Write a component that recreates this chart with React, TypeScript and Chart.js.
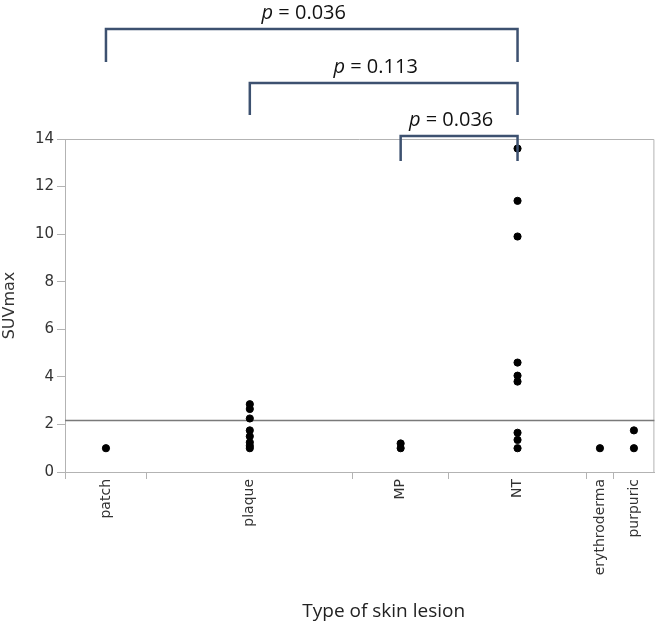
import React, { useEffect, useRef } from "react";
import { Chart, registerables } from "chart.js";

Chart.register(...registerables);

// ---------- data ----------
const CATEGORIES = ["patch", "plaque", "MP", "NT", "erythroderma", "purpuric"];
const CATEGORY_WIDTHS = [82, 206, 96, 138, 27, 41];
const PATCH = [1.0];
const PLAQUE = [2.85, 2.65, 2.25, 1.75, 1.5, 1.25, 1.1, 1.0];
const MP = [1.2, 1.0];
const NT = [13.6, 11.4, 9.9, 4.6, 4.05, 3.8, 1.65, 1.35, 1.0];
const ERYTHRODERMA = [1.0];
const PURPURIC = [1.75, 1.0];
const SERIES = [PATCH, PLAQUE, MP, NT, ERYTHRODERMA, PURPURIC];
const Y_TICKS = [0, 2, 4, 6, 8, 10, 12, 14];
const REFERENCE_LINE = 2.2;
const COMPARISONS = [
  { from: "patch", to: "NT", p: "0.036" },
  { from: "plaque", to: "NT", p: "0.113" },
  { from: "MP", to: "NT", p: "0.036" },
];
const X_TITLE = "Type of skin lesion";
const Y_TITLE = "SUVmax";

// ---------- derived ----------
const BOUNDS: number[] = [0];
CATEGORY_WIDTHS.forEach((w, i) => BOUNDS.push(BOUNDS[i] + w));
const TOTAL = BOUNDS[BOUNDS.length - 1];
const CENTERS = CATEGORIES.map((_, i) => (BOUNDS[i] + BOUNDS[i + 1]) / 2);
const X_TICKS: { value: number; label: string; boundary: boolean }[] = [];
BOUNDS.slice(0, -1).forEach((b, i) => {
  X_TICKS.push({ value: b, label: "", boundary: true });
  X_TICKS.push({ value: CENTERS[i], label: CATEGORIES[i], boundary: false });
});

const AXIS_GRAY = "#b3b3b3";
const TEXT = "#333333";
const BRACKET = "#3d5170";

const decorPlugin = {
  id: "decor",
  beforeDatasetsDraw(chart: any) {
    const { ctx, chartArea: a, scales } = chart;
    ctx.save();
    // frame (top & right)
    ctx.strokeStyle = AXIS_GRAY;
    ctx.lineWidth = 1;
    ctx.beginPath();
    ctx.moveTo(a.left, a.top + 0.5);
    ctx.lineTo(a.right - 0.5, a.top + 0.5);
    ctx.lineTo(a.right - 0.5, a.bottom);
    ctx.stroke();
    // reference line
    const y = Math.round(scales.y.getPixelForValue(REFERENCE_LINE)) + 0.5;
    ctx.strokeStyle = "#7a7a7a";
    ctx.lineWidth = 1.5;
    ctx.beginPath();
    ctx.moveTo(a.left, y);
    ctx.lineTo(a.right, y);
    ctx.stroke();
    ctx.restore();
  },
  afterDraw(chart: any) {
    const { ctx, chartArea: a, scales } = chart;
    const levels = [110, 56, 3];
    const drops = [33, 32, 25];
    ctx.save();
    COMPARISONS.forEach((c, i) => {
      const x1 = scales.x.getPixelForValue(CENTERS[CATEGORIES.indexOf(c.from)]);
      const x2 = scales.x.getPixelForValue(CENTERS[CATEGORIES.indexOf(c.to)]);
      const yh = a.top - levels[i];
      ctx.strokeStyle = BRACKET;
      ctx.lineWidth = 2.5;
      ctx.lineJoin = "miter";
      ctx.beginPath();
      ctx.moveTo(x1, yh + drops[i]);
      ctx.lineTo(x1, yh);
      ctx.lineTo(x2, yh);
      ctx.lineTo(x2, yh + drops[i]);
      ctx.stroke();
      // label
      const italic = "italic 20px 'Open Sans'";
      const normal = "20px 'Open Sans'";
      ctx.font = italic;
      const w1 = ctx.measureText("p").width;
      ctx.font = normal;
      const rest = " = " + c.p;
      const w2 = ctx.measureText(rest).width;
      const cx = (x1 + x2) / 2 - 8;
      const sx = cx - (w1 + w2) / 2;
      ctx.fillStyle = "#111";
      ctx.textBaseline = "middle";
      ctx.textAlign = "left";
      ctx.font = italic;
      ctx.fillText("p", sx, yh - 16);
      ctx.font = normal;
      ctx.fillText(rest, sx + w1, yh - 16);
    });
    // x axis title
    ctx.font = "19px 'Open Sans'";
    ctx.fillStyle = "#222";
    ctx.textAlign = "center";
    ctx.textBaseline = "middle";
    ctx.fillText(X_TITLE, (a.left + a.right) / 2 + 24, a.bottom + 140);
    ctx.restore();
  },
};

export default function App() {
  const ref = useRef<HTMLCanvasElement | null>(null);
  useEffect(() => {
    document.body.style.margin = "0";
    const canvas = ref.current;
    if (!canvas) return;
    const data: { x: number; y: number }[] = [];
    SERIES.forEach((vals, i) => vals.forEach((v) => data.push({ x: CENTERS[i], y: v })));
    const chart = new Chart(canvas, {
      type: "scatter",
      data: {
        datasets: [
          {
            data,
            backgroundColor: "#000",
            borderColor: "#000",
            pointRadius: 3.6,
            pointHoverRadius: 3.6,
          },
        ],
      },
      options: {
        animation: false,
        responsive: false,
        devicePixelRatio: 1,
        layout: { padding: { top: 139, right: 4, bottom: 0, left: 0 } },
        plugins: { legend: { display: false }, tooltip: { enabled: false } },
        scales: {
          x: {
            type: "linear",
            min: 0,
            max: TOTAL,
            afterBuildTicks: (s: any) => {
              s.ticks = X_TICKS.map((t) => ({ value: t.value }));
            },
            afterFit: (s: any) => {
              s.height = 154;
            },
            ticks: {
              autoSkip: false,
              minRotation: 90,
              maxRotation: 90,
              padding: 0,
              color: TEXT,
              font: { family: "DejaVu Sans", size: 14 },
              callback: (_v: any, i: number) => X_TICKS[i].label,
            },
            grid: {
              drawOnChartArea: false,
              tickLength: 7,
              color: (c: any) => (X_TICKS[c.index] && X_TICKS[c.index].boundary ? AXIS_GRAY : "rgba(0,0,0,0)"),
              tickColor: (c: any) => (X_TICKS[c.index] && X_TICKS[c.index].boundary ? AXIS_GRAY : "rgba(0,0,0,0)"),
            },
            border: { color: AXIS_GRAY },
          },
          y: {
            min: 0,
            max: 14,
            afterBuildTicks: (s: any) => {
              s.ticks = Y_TICKS.map((v) => ({ value: v }));
            },
            afterFit: (s: any) => {
              s.width = 65;
            },
            ticks: {
              color: TEXT,
              padding: 3,
              font: { family: "DejaVu Sans", size: 15 },
            },
            grid: { drawOnChartArea: false, tickLength: 8, color: AXIS_GRAY },
            border: { color: AXIS_GRAY },
            title: {
              display: true,
              text: Y_TITLE,
              color: TEXT,
              padding: 0,
              font: { family: "DejaVu Sans", size: 16 },
            },
          },
        },
      },
      plugins: [decorPlugin],
    } as any);
    return () => chart.destroy();
  }, []);
  return (
    <div style={{ width: 659, height: 626 }}>
      <canvas ref={ref} width={659} height={626} />
    </div>
  );
}
